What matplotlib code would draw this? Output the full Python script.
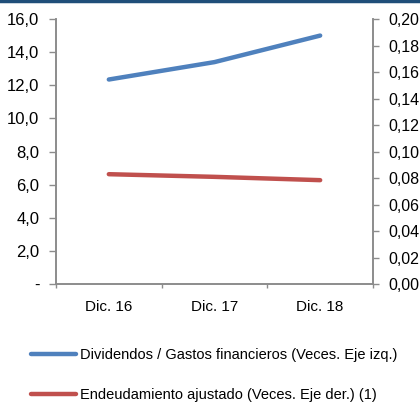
import matplotlib
matplotlib.use("Agg")
import matplotlib.pyplot as plt
from matplotlib.lines import Line2D
from matplotlib.ticker import FixedLocator, FuncFormatter

categories = ["Dic. 16", "Dic. 17", "Dic. 18"]
dividendos = [12.35, 13.4, 15.0]
endeudamiento = [0.083, 0.081, 0.0785]
left_ticks = [0, 2, 4, 6, 8, 10, 12, 14, 16]
right_ticks = [0.00, 0.02, 0.04, 0.06, 0.08, 0.10, 0.12, 0.14, 0.16, 0.18, 0.20]
label_blue = "Dividendos / Gastos financieros (Veces. Eje izq.)"
label_red = "Endeudamiento ajustado (Veces. Eje der.) (1)"

plt.rcParams['font.family'] = ['Liberation Sans', 'DejaVu Sans']
fs_tick = 12
fs_x = 11
fs_right = 11.5
fs_leg = 10.5
grey = "#8c8c8c"

fig = plt.figure(figsize=(4.2, 4.04), dpi=100)
ax = fig.add_axes([0.1333, 0.2963, 0.7548, 0.6567])
ax2 = ax.twinx()

x = list(range(len(categories)))
l1, = ax.plot(x, dividendos, color="#4f81bd", lw=3.2, solid_capstyle="round")
l2, = ax2.plot(x, endeudamiento, color="#c0504d", lw=3.2, solid_capstyle="round")

ax.set_xlim(-0.5, len(categories) - 0.5)
ax.set_ylim(0, 16)
ax2.set_ylim(0, 0.20)

ax.set_yticks(left_ticks)
ax.yaxis.set_major_formatter(FuncFormatter(lambda v, p: "-" if v == 0 else f"{v:.1f}".replace(".", ",")))
ax2.set_yticks(right_ticks)
ax2.yaxis.set_major_formatter(FuncFormatter(lambda v, p: f"{v:.2f}".replace(".", ",")))

ax.set_xticks(x)
ax.set_xticklabels(categories)
ax.xaxis.set_minor_locator(FixedLocator([-0.5, 0.5, 1.5, 2.5]))
ax.tick_params(axis="x", which="major", length=0, pad=11, labelsize=fs_x)
ax.tick_params(axis="x", which="minor", length=3, color=grey, width=1)
ax.tick_params(axis="y", length=5, color=grey, width=1, labelsize=fs_tick, pad=7)
ax2.tick_params(axis="y", length=4, color=grey, width=1, labelsize=fs_right, pad=7)

for a in (ax, ax2):
    a.spines["top"].set_visible(False)
    for s in ("left", "right", "bottom"):
        a.spines[s].set_color(grey)
        a.spines[s].set_linewidth(1.2)

leg = fig.legend([l1, l2], [label_blue, label_red], loc="upper left",
                 bbox_to_anchor=(0.074, 0.138), frameon=False, fontsize=fs_leg,
                 handlelength=3.1, handletextpad=0.25, labelspacing=1.8,
                 borderaxespad=0, borderpad=0)

fig.add_artist(Line2D([0, 1], [0.998, 0.998], transform=fig.transFigure,
                      color="#1f4e79", lw=2.5))

fig.savefig("out.png", dpi=100)
